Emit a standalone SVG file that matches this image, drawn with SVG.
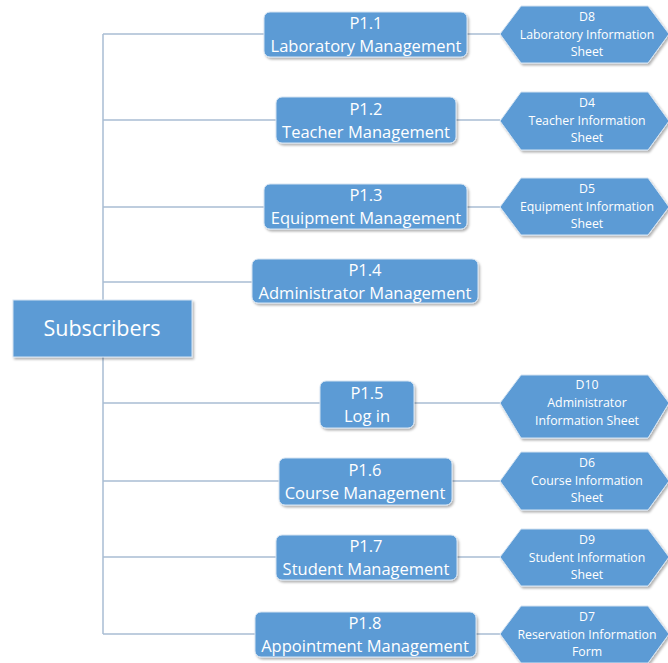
<svg xmlns="http://www.w3.org/2000/svg" width="668" height="663" viewBox="0 0 668 663">
<defs>
<filter id="sh" x="-10%" y="-10%" width="130%" height="140%">
<feDropShadow dx="1.5" dy="2" stdDeviation="1.2" flood-color="#000" flood-opacity="0.3"/>
</filter>
<style>
.box{fill:#5b9bd5;stroke:#d6e4f2;stroke-width:1;filter:url(#sh)}
.hex{fill:#5b9bd5;stroke:#d6e4f2;stroke-width:1;filter:url(#sh)}
.t{font-family:"Open Sans","Liberation Sans",sans-serif;fill:#fff;text-anchor:middle;font-size:16.5px}
.s{font-family:"Open Sans","Liberation Sans",sans-serif;fill:#fff;text-anchor:middle;font-size:12.3px}
.c{stroke:#a9bdd3;stroke-width:1.5;fill:none}
</style>
</defs>
<rect width="668" height="663" fill="#fff"/>
<g id="connectors">
<line class="c" x1="103" y1="34" x2="103" y2="634" stroke-width="2"/>
<line class="c" x1="103" y1="34" x2="264" y2="34"/>
<line class="c" x1="103" y1="120" x2="276" y2="120"/>
<line class="c" x1="103" y1="207" x2="264" y2="207"/>
<line class="c" x1="103" y1="282" x2="252" y2="282"/>
<line class="c" x1="103" y1="403" x2="320" y2="403"/>
<line class="c" x1="103" y1="481" x2="279" y2="481"/>
<line class="c" x1="103" y1="557" x2="276" y2="557"/>
<line class="c" x1="103" y1="634" x2="255" y2="634"/>
<line class="c" x1="467" y1="34" x2="500" y2="34"/>
<line class="c" x1="456" y1="120" x2="500" y2="120"/>
<line class="c" x1="467" y1="207" x2="500" y2="207"/>
<line class="c" x1="414" y1="403" x2="500" y2="403"/>
<line class="c" x1="452" y1="481" x2="500" y2="481"/>
<line class="c" x1="457" y1="557" x2="500" y2="557"/>
<line class="c" x1="476" y1="634" x2="500" y2="634"/>
</g>
<g id="subscribers">
<rect class="box" x="13" y="300" width="179" height="57"/>
<text class="t" x="102" y="336" style="font-size:21.5px">Subscribers</text>
</g>
<g id="p11">
<rect class="box" x="264" y="12" width="203" height="45" rx="6"/>
<text class="t" x="366" y="29">P1.1</text>
<text class="t" x="366" y="52">Laboratory Management</text>
</g>
<g id="p12">
<rect class="box" x="276" y="97" width="180" height="46" rx="6"/>
<text class="t" x="366" y="115">P1.2</text>
<text class="t" x="366" y="138">Teacher Management</text>
</g>
<g id="p13">
<rect class="box" x="264" y="184" width="203" height="45" rx="6"/>
<text class="t" x="366" y="201">P1.3</text>
<text class="t" x="366" y="224">Equipment Management</text>
</g>
<g id="p14">
<rect class="box" x="252" y="259" width="226" height="44" rx="6"/>
<text class="t" x="365" y="276">P1.4</text>
<text class="t" x="365" y="299">Administrator Management</text>
</g>
<g id="p15">
<rect class="box" x="320" y="381" width="94" height="47" rx="6"/>
<text class="t" x="367" y="399">P1.5</text>
<text class="t" x="367" y="422">Log in</text>
</g>
<g id="p16">
<rect class="box" x="279" y="458" width="173" height="47" rx="6"/>
<text class="t" x="365" y="476">P1.6</text>
<text class="t" x="365" y="499">Course Management</text>
</g>
<g id="p17">
<rect class="box" x="276" y="535" width="181" height="45" rx="6"/>
<text class="t" x="366" y="552">P1.7</text>
<text class="t" x="366" y="575">Student Management</text>
</g>
<g id="p18">
<rect class="box" x="255" y="612" width="221" height="45" rx="6"/>
<text class="t" x="365" y="629">P1.8</text>
<text class="t" x="365" y="652">Appointment Management</text>
</g>
<g id="d8">
<polygon class="hex" points="500,34 521,6 648,6 669,34 648,63 521,63"/>
<text class="s" x="587" y="21">D8</text>
<text class="s" x="587" y="39">Laboratory Information</text>
<text class="s" x="587" y="56">Sheet</text>
</g>
<g id="d4">
<polygon class="hex" points="500,121 521,92 648,92 669,121 648,150 521,150"/>
<text class="s" x="587" y="107">D4</text>
<text class="s" x="587" y="125">Teacher Information</text>
<text class="s" x="587" y="142">Sheet</text>
</g>
<g id="d5">
<polygon class="hex" points="500,207 521,178 648,178 669,207 648,235 521,235"/>
<text class="s" x="587" y="193">D5</text>
<text class="s" x="587" y="211">Equipment Information</text>
<text class="s" x="587" y="228">Sheet</text>
</g>
<g id="d10">
<polygon class="hex" points="500,403 521,375 648,375 669,403 648,438 521,438"/>
<text class="s" x="587" y="389">D10</text>
<text class="s" x="587" y="407">Administrator</text>
<text class="s" x="587" y="425">Information Sheet</text>
</g>
<g id="d6">
<polygon class="hex" points="500,481 521,452 648,452 669,481 648,510 521,510"/>
<text class="s" x="587" y="467">D6</text>
<text class="s" x="587" y="485">Course Information</text>
<text class="s" x="587" y="502">Sheet</text>
</g>
<g id="d9">
<polygon class="hex" points="500,557 521,529 648,529 669,557 648,586 521,586"/>
<text class="s" x="587" y="544">D9</text>
<text class="s" x="587" y="562">Student Information</text>
<text class="s" x="587" y="579">Sheet</text>
</g>
<g id="d7">
<polygon class="hex" points="500,634 521,606 648,606 669,634 648,663 521,663"/>
<text class="s" x="587" y="621">D7</text>
<text class="s" x="587" y="639">Reservation Information</text>
<text class="s" x="587" y="656">Form</text>
</g>
</svg>
